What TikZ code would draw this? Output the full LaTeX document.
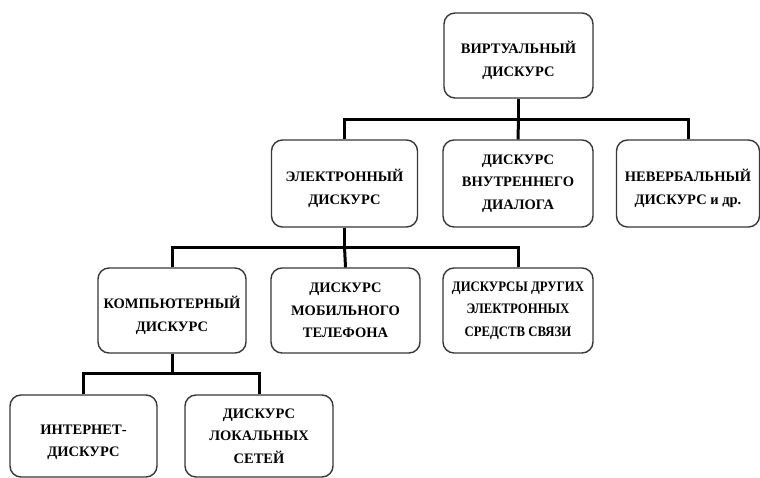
\documentclass[tikz,border=0pt]{standalone}
\usepackage{fontspec}
\setmainfont{Liberation Serif}
\newfontfamily\narrowfont{Liberation Serif}[FakeStretch=0.88]
\tikzset{
  box/.style={draw=black!78, line width=1.4pt, rounded corners=11pt, fill=white,
    align=center, inner sep=0pt, minimum height=85pt,
    font=\bfseries\fontsize{14.5}{22.5}\selectfont},
  conn/.style={draw=black, line width=3pt}
}
\begin{document}
\begin{tikzpicture}[x=1pt,y=-1pt]
\useasboundingbox[fill=white] (0,0) rectangle (760,477);
% level 1
\node[box, minimum width=149pt] (top) at (518.5,55.5) {\mbox{}\\ВИРТУАЛЬНЫЙ\\ДИСКУРС};
% level 2
\node[box, minimum width=146pt, minimum height=87pt] (el) at (344.5,183.5) {\mbox{}\\ЭЛЕКТРОННЫЙ\\ДИСКУРС};
\node[box, minimum width=150pt, minimum height=87pt] (in) at (518,183.5) {ДИСКУРС\\ВНУТРЕННЕГО\\ДИАЛОГА};
\node[box, minimum width=143pt, minimum height=87pt] (nv) at (688,183.5) {\mbox{}\\НЕВЕРБАЛЬНЫЙ\\ДИСКУРС и др.};
% level 3
\node[box, minimum width=148pt] (comp) at (172,310.5) {\mbox{}\\КОМПЬЮТЕРНЫЙ\\ДИСКУРС};
\node[box, minimum width=149pt] (mob) at (345.5,310.5) {ДИСКУРС\\МОБИЛЬНОГО\\ТЕЛЕФОНА};
\node[box, minimum width=150pt, font=\narrowfont\bfseries\fontsize{14.5}{22.5}\selectfont] (oth) at (518,310.5) {ДИСКУРСЫ ДРУГИХ\\ЭЛЕКТРОННЫХ\\СРЕДСТВ СВЯЗИ};
% level 4
\node[box, minimum width=147pt, minimum height=82pt] (inet) at (83.5,436) {\mbox{}\\ИНТЕРНЕТ-\\ДИСКУРС};
\node[box, minimum width=148pt, minimum height=82pt] (loc) at (259,436) {ДИСКУРС\\ЛОКАЛЬНЫХ\\СЕТЕЙ};
% junctions
\coordinate (j1) at (518.5,119);
\coordinate (j2) at (344.5,247);
\coordinate (j3) at (172,373);
% connectors
\draw[conn] (top.south) -- (j1);
\draw[conn] (el.north) |- (j1) -| (nv.north);
\draw[conn] (j1) -- (in.north);
\draw[conn] (el.south) -- (j2);
\draw[conn] (comp.north) |- (j2) -| (oth.north);
\draw[conn] (j2) -- (mob.north);
\draw[conn] (comp.south) -- (j3);
\draw[conn] (inet.north) |- (j3) -| (loc.north);
\end{tikzpicture}
\end{document}
